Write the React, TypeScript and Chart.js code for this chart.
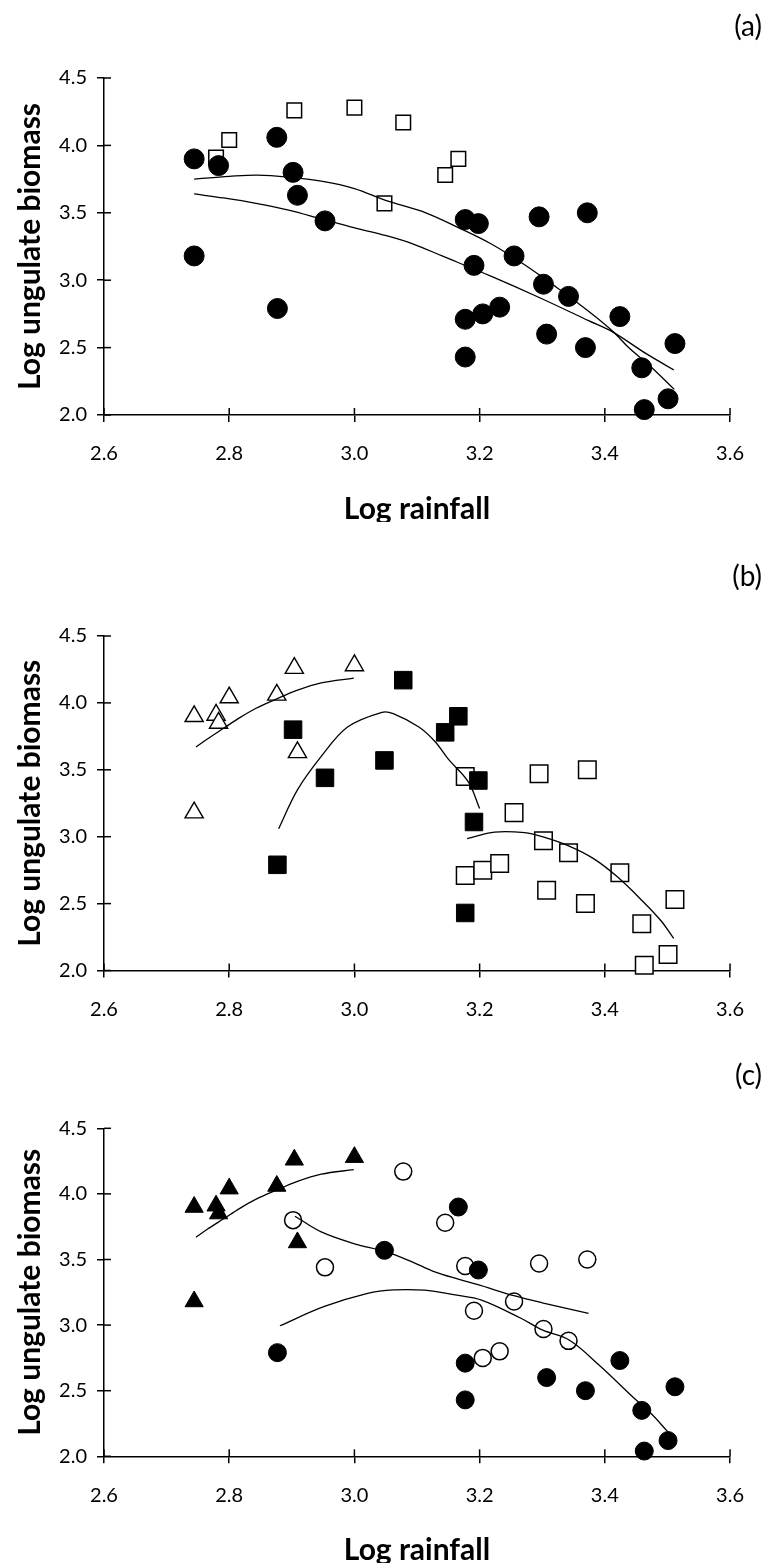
import { useEffect, useRef } from "react";
import { Chart, registerables } from "chart.js";

Chart.register(...registerables);

const FONT = "Lato, 'Open Sans', sans-serif";

// ---- axis ticks ----
const xTickValues = [2.6, 2.8, 3.0, 3.2, 3.4, 3.6];
const xTickLabels = ["2.6", "2.8", "3.0", "3.2", "3.4", "3.6"];
const yTickValues = [2.0, 2.5, 3.0, 3.5, 4.0, 4.5];
const yTickLabels = ["2.0", "2.5", "3.0", "3.5", "4.0", "4.5"];

// ---- observations (same sites in every panel) ----
const rainfall = [
  2.744, 2.779, 2.783, 2.8, 2.876, 2.904, 3.0, 2.909, 2.744,
  2.877, 2.902, 2.953, 3.048, 3.078, 3.145, 3.166, 3.177, 3.198, 3.191,
  3.177, 3.295, 3.372, 3.255, 3.302, 3.342, 3.177, 3.205, 3.232, 3.307,
  3.369, 3.424, 3.512, 3.459, 3.501, 3.463,
];
const biomass = [
  3.9, 3.91, 3.85, 4.04, 4.06, 4.26, 4.28, 3.63, 3.18,
  2.79, 3.8, 3.44, 3.57, 4.17, 3.78, 3.9, 2.43, 3.42, 3.11,
  3.45, 3.47, 3.5, 3.18, 2.97, 2.88, 2.71, 2.75, 2.8, 2.6,
  2.5, 2.73, 2.53, 2.35, 2.12, 2.04,
];

// group membership per panel
// (a): F filled circle, S open square
const groupA = [
  "F", "S", "F", "S", "F", "S", "S", "F", "F",
  "F", "F", "F", "S", "S", "S", "S", "F", "F", "F",
  "F", "F", "F", "F", "F", "F", "F", "F", "F", "F",
  "F", "F", "F", "F", "F", "F",
];
// (b): T open triangle, Q filled square, S open square
const groupB = [
  "T", "T", "T", "T", "T", "T", "T", "T", "T",
  "Q", "Q", "Q", "Q", "Q", "Q", "Q", "Q", "Q", "Q",
  "S", "S", "S", "S", "S", "S", "S", "S", "S", "S",
  "S", "S", "S", "S", "S", "S",
];
// (c): T filled triangle, F filled circle, O open circle
const groupC = [
  "T", "T", "T", "T", "T", "T", "T", "T", "T",
  "F", "O", "O", "F", "O", "O", "F", "F", "F", "O",
  "O", "O", "O", "O", "O", "O", "F", "O", "O", "F",
  "F", "F", "F", "F", "F", "F",
];

// ---- fitted curves ----
const fitA1X = [2.744, 2.8, 2.845, 2.895, 2.947, 3.0, 3.051, 3.114, 3.166, 3.218, 3.27, 3.322, 3.374, 3.413, 3.438, 3.473, 3.511];
const fitA1Y = [3.75, 3.77, 3.78, 3.765, 3.735, 3.68, 3.59, 3.5, 3.39, 3.27, 3.12, 2.95, 2.77, 2.62, 2.5, 2.36, 2.19];
const fitA2X = [2.744, 2.791, 2.843, 2.895, 2.947, 2.999, 3.051, 3.093, 3.14, 3.218, 3.296, 3.374, 3.413, 3.466, 3.51];
const fitA2Y = [3.64, 3.61, 3.57, 3.52, 3.455, 3.39, 3.33, 3.27, 3.18, 3.03, 2.87, 2.7, 2.615, 2.455, 2.335];

const fitTriX = [2.747, 2.765, 2.791, 2.817, 2.843, 2.876, 2.906, 2.947, 2.999];
const fitTriY = [3.67, 3.73, 3.81, 3.89, 3.96, 4.03, 4.09, 4.15, 4.185];

const fitB2X = [2.879, 2.909, 2.947, 2.989, 3.044, 3.062, 3.103, 3.129, 3.15, 3.182, 3.2];
const fitB2Y = [3.06, 3.35, 3.6, 3.82, 3.93, 3.92, 3.82, 3.71, 3.58, 3.41, 3.21];
const fitB3X = [3.18, 3.224, 3.272, 3.3, 3.343, 3.382, 3.42, 3.46, 3.49, 3.51];
const fitB3Y = [2.985, 3.034, 3.03, 3.0, 2.93, 2.836, 2.7, 2.52, 2.37, 2.24];

const fitC2X = [2.905, 2.947, 3.0, 3.05, 3.093, 3.126, 3.166, 3.196, 3.258, 3.3, 3.374];
const fitC2Y = [3.83, 3.71, 3.62, 3.56, 3.48, 3.41, 3.35, 3.31, 3.22, 3.17, 3.09];
const fitC3X = [2.881, 2.951, 3.021, 3.063, 3.112, 3.161, 3.203, 3.266, 3.3, 3.343, 3.392, 3.443, 3.475, 3.5];
const fitC3Y = [2.995, 3.14, 3.242, 3.268, 3.266, 3.23, 3.191, 3.052, 2.963, 2.886, 2.69, 2.46, 2.32, 2.19];

type Style = {
  pointStyle: string;
  radius: number;
  bg: string;
  border: string;
  bw: number;
  order: number;
};

const stylesA: Record<string, Style> = {
  F: { pointStyle: "circle", radius: 10, bg: "#000", border: "#000", bw: 1, order: 1 },
  S: { pointStyle: "rect", radius: 10.3, bg: "#fff", border: "#000", bw: 1.5, order: 2 },
};
const stylesB: Record<string, Style> = {
  T: { pointStyle: "triangle", radius: 10.5, bg: "#fff", border: "#000", bw: 1.4, order: 3 },
  Q: { pointStyle: "rect", radius: 12.4, bg: "#000", border: "#000", bw: 1, order: 1 },
  S: { pointStyle: "rect", radius: 12.4, bg: "#fff", border: "#000", bw: 1.5, order: 2 },
};
const stylesC: Record<string, Style> = {
  T: { pointStyle: "triangle", radius: 10.5, bg: "#000", border: "#000", bw: 1, order: 1 },
  F: { pointStyle: "circle", radius: 9, bg: "#000", border: "#000", bw: 1, order: 1 },
  O: { pointStyle: "circle", radius: 8.5, bg: "#fff", border: "#000", bw: 1.5, order: 2 },
};

function markerSets(groups: string[], styles: Record<string, Style>) {
  return Object.keys(styles).map((code) => {
    const s = styles[code];
    const data = rainfall
      .map((x, i) => ({ x, y: biomass[i], g: groups[i] }))
      .filter((p) => p.g === code)
      .map((p) => ({ x: p.x, y: p.y }));
    return {
      label: code,
      data,
      showLine: false,
      pointStyle: s.pointStyle,
      pointRadius: s.radius,
      pointHoverRadius: s.radius,
      pointBackgroundColor: s.bg,
      pointBorderColor: s.border,
      pointBorderWidth: s.bw,
      order: s.order,
      clip: false,
    };
  });
}

function fitSet(xs: number[], ys: number[]) {
  return {
    label: "fit",
    data: xs.map((x, i) => ({ x, y: ys[i] })),
    showLine: true,
    pointRadius: 0,
    pointHoverRadius: 0,
    borderColor: "#000",
    borderWidth: 1.3,
    tension: 0.35,
    fill: false,
    order: 0,
    clip: false,
  };
}

const innerTicks = {
  id: "innerTicks",
  beforeDatasetsDraw(chart: any) {
    const { ctx, chartArea } = chart;
    const xs = chart.scales.x;
    const ys = chart.scales.y;
    ctx.save();
    ctx.strokeStyle = "#000";
    ctx.lineWidth = 1.5;
    xs.ticks.forEach((t: any) => {
      const px = xs.getPixelForValue(t.value);
      ctx.beginPath();
      ctx.moveTo(px, chartArea.bottom);
      ctx.lineTo(px, chartArea.bottom - 7);
      ctx.stroke();
    });
    ys.ticks.forEach((t: any) => {
      const py = ys.getPixelForValue(t.value);
      ctx.beginPath();
      ctx.moveTo(chartArea.left, py);
      ctx.lineTo(chartArea.left + 7, py);
      ctx.stroke();
    });
    ctx.restore();
  },
};

const panelLetter = {
  id: "panelLetter",
  afterDraw(chart: any, _args: any, opts: any) {
    const { ctx } = chart;
    ctx.save();
    ctx.font = `28px ${FONT}`;
    ctx.fillStyle = "#000";
    ctx.textAlign = "right";
    ctx.textBaseline = "middle";
    ctx.fillText(opts.text, opts.x, opts.y);
    ctx.restore();
  },
};

type PanelProps = {
  top: number;
  height: number;
  areaTop: number;
  areaBottom: number;
  letter: string;
  letterY: number;
  showXTitle: boolean;
  datasets: any[];
};

function Panel(p: PanelProps) {
  const ref = useRef<HTMLCanvasElement | null>(null);
  useEffect(() => {
    if (!ref.current) return;
    const chart = new Chart(ref.current, {
      type: "scatter",
      data: { datasets: p.datasets },
      plugins: [innerTicks, panelLetter],
      options: {
        animation: false,
        responsive: false,
        devicePixelRatio: 1,
        events: [],
        layout: { padding: { top: p.areaTop, right: 19, left: 0, bottom: 0 } },
        plugins: {
          legend: { display: false },
          tooltip: { enabled: false },
          title: { display: false },
          panelLetter: { text: p.letter, x: 762, y: p.letterY },
        } as any,
        scales: {
          x: {
            type: "linear",
            position: "bottom",
            min: 2.6,
            max: 3.6,
            afterFit: (s: any) => {
              s.height = p.height - p.areaBottom;
            },
            afterBuildTicks: (s: any) => {
              s.ticks = xTickValues.map((v) => ({ value: v }));
            },
            ticks: {
              autoSkip: false,
              maxRotation: 0,
              padding: 20,
              color: "#000",
              font: { family: FONT, size: 20 },
              callback: (_v: any, i: number) => xTickLabels[i],
            },
            grid: {
              drawOnChartArea: false,
              drawTicks: true,
              tickLength: 7,
              color: "#000",
              lineWidth: 1.5,
            },
            border: { display: true, color: "#000", width: 1.5 },
            title: {
              display: p.showXTitle,
              text: "Log rainfall",
              color: "#000",
              font: { family: FONT, size: 30, weight: "bold", lineHeight: 0.87 },
              padding: { top: 0, bottom: 0 },
            },
          },
          y: {
            type: "linear",
            position: "left",
            min: 2.0,
            max: 4.5,
            afterFit: (s: any) => {
              s.width = 104;
            },
            afterBuildTicks: (s: any) => {
              s.ticks = yTickValues.map((v) => ({ value: v }));
            },
            ticks: {
              autoSkip: false,
              padding: 10,
              color: "#000",
              font: { family: FONT, size: 20 },
              callback: (_v: any, i: number) => yTickLabels[i],
            },
            grid: {
              drawOnChartArea: false,
              drawTicks: true,
              tickLength: 7,
              color: "#000",
              lineWidth: 1.5,
            },
            border: { display: true, color: "#000", width: 1.5 },
            title: {
              display: true,
              text: "Log ungulate biomass",
              color: "#000",
              font: { family: FONT, size: 30, weight: "bold", lineHeight: 1 },
              padding: { top: 15, bottom: 0 },
            },
          },
        },
      } as any,
    });
    return () => chart.destroy();
  }, []);
  return (
    <canvas
      ref={ref}
      width={764}
      height={p.height}
      style={{ position: "absolute", left: 0, top: p.top, width: 764, height: p.height }}
    />
  );
}

export default function App() {
  const dsA = [fitSet(fitA1X, fitA1Y), fitSet(fitA2X, fitA2Y), ...markerSets(groupA, stylesA)];
  const dsB = [
    fitSet(fitTriX, fitTriY),
    fitSet(fitB2X, fitB2Y),
    fitSet(fitB3X, fitB3Y),
    ...markerSets(groupB, stylesB),
  ];
  const dsC = [
    fitSet(fitTriX, fitTriY),
    fitSet(fitC2X, fitC2Y),
    fitSet(fitC3X, fitC3Y),
    ...markerSets(groupC, stylesC),
  ];
  return (
    <div style={{ position: "absolute", left: 0, top: 0, width: 764, height: 1563, background: "#fff", overflow: "hidden" }}>
      <Panel top={0} height={522} areaTop={78} areaBottom={415} letter="(a)" letterY={27} showXTitle={true} datasets={dsA} />
      <Panel top={522} height={518} areaTop={114} areaBottom={448.5} letter="(b)" letterY={55} showXTitle={false} datasets={dsB} />
      <Panel top={1040} height={523} areaTop={88.3} areaBottom={416.3} letter="(c)" letterY={36} showXTitle={true} datasets={dsC} />
    </div>
  );
}
